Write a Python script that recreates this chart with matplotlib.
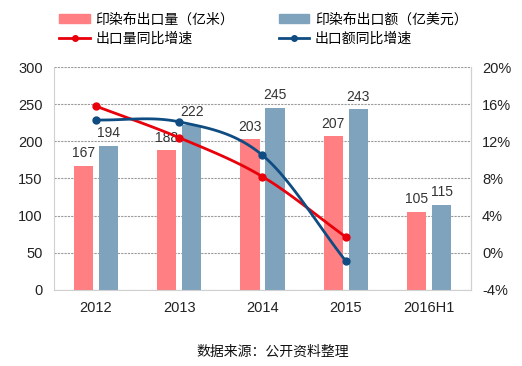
import numpy as np
import matplotlib
matplotlib.use("Agg")
import matplotlib.pyplot as plt
from matplotlib.patches import Patch
from matplotlib.lines import Line2D

plt.rcParams['font.family'] = ['Liberation Sans', 'Noto Sans CJK SC']

years = ['2012', '2013', '2014', '2015', '2016H1']
volume = [167, 188, 203, 207, 105]      # 印染布出口量（亿米）
value = [194, 222, 245, 243, 115]       # 印染布出口额（亿美元）
vol_growth = [15.8, 12.4, 8.2, 1.7]     # 出口量同比增速 %
val_growth = [14.3, 14.1, 10.5, -0.9]   # 出口额同比增速 %

pink = '#FF7F82'
steel = '#7FA2BD'
red = '#E8000B'
navy = '#0F4C81'


def smooth(x, y, n=30):
    # catmull-rom, like excel's smoothed line
    x = np.asarray(x, float)
    y = np.asarray(y, float)
    px = np.concatenate([[2 * x[0] - x[1]], x, [2 * x[-1] - x[-2]]])
    py = np.concatenate([[2 * y[0] - y[1]], y, [2 * y[-1] - y[-2]]])
    xs, ys = [], []
    for i in range(1, len(px) - 2):
        t = np.linspace(0, 1, n)
        for p, out in ((px, xs), (py, ys)):
            p0, p1, p2, p3 = p[i - 1], p[i], p[i + 1], p[i + 2]
            out.extend(0.5 * ((2 * p1) + (-p0 + p2) * t
                              + (2 * p0 - 5 * p1 + 4 * p2 - p3) * t ** 2
                              + (-p0 + 3 * p1 - 3 * p2 + p3) * t ** 3))
    return xs, ys


fig = plt.figure(figsize=(5.22, 3.66), dpi=100)
ax = fig.add_axes([0.1034, 0.2077, 0.7989, 0.6092])
x = np.arange(len(years))
w = 0.23
ax.bar(x - 0.15, volume, w, color=pink, zorder=2)
ax.bar(x + 0.15, value, w, color=steel, zorder=2)
for i in range(len(years)):
    ax.annotate(str(volume[i]), (x[i] - 0.15, volume[i]), xytext=(0, 4),
                textcoords='offset points', ha='center', va='bottom',
                fontsize=10, color='#333333', zorder=5)
    ax.annotate(str(value[i]), (x[i] + 0.15, value[i]), xytext=(0, 4),
                textcoords='offset points', ha='center', va='bottom',
                fontsize=10, color='#333333', zorder=5)

ax.set_ylim(0, 300)
ax.set_yticks(range(0, 301, 50))
ax.set_xlim(-0.5, len(years) - 0.5)
ax.set_xticks(x)
ax.set_xticklabels(years)
ax.yaxis.grid(True, linestyle=(0, (2, 1)), color='#9A9A9A', linewidth=0.8, zorder=0)
ax.set_axisbelow(True)
ax.tick_params(length=0, labelsize=10.5, colors='#222222', pad=8)
for s in ax.spines.values():
    s.set_color('#D0D0D0')
ax.spines['top'].set_visible(False)

ax2 = ax.twinx()
ax2.set_ylim(-4, 20)
ax2.set_yticks(range(-4, 21, 4))
ax2.set_yticklabels([f'{v}%' for v in range(-4, 21, 4)])
ax2.tick_params(length=0, labelsize=10.5, colors='#222222', pad=8)
for s in ax2.spines.values():
    s.set_visible(False)
ax2.spines['right'].set_visible(True)
ax2.spines['right'].set_color('#D0D0D0')

sx, sy = smooth(x[:4], vol_growth)
ax2.plot(sx, sy, color=red, lw=2, zorder=3)
ax2.plot(x[:4], vol_growth, 'o', color=red, ms=5, zorder=4)
sx, sy = smooth(x[:4], val_growth)
ax2.plot(sx, sy, color=navy, lw=2, zorder=3)
ax2.plot(x[:4], val_growth, 'o', color=navy, ms=5, zorder=4)

handles = [Patch(color=pink, label='印染布出口量（亿米）'),
           Line2D([], [], color=red, lw=2, marker='o', ms=4, label='出口量同比增速'),
           Patch(color=steel, label='印染布出口额（亿美元）'),
           Line2D([], [], color=navy, lw=2, marker='o', ms=4, label='出口额同比增速')]
fig.legend(handles=handles, ncol=2, loc='upper left', bbox_to_anchor=(0.09, 1.0),
           frameon=False, fontsize=10, handlelength=2.2, handleheight=0.6,
           columnspacing=3.2, labelspacing=0.4, handletextpad=0.4)

fig.text(0.523, 0.038, '数据来源：公开资料整理', ha='center', va='center',
         fontsize=10, color='#111111')

fig.savefig('out.png', dpi=100)
